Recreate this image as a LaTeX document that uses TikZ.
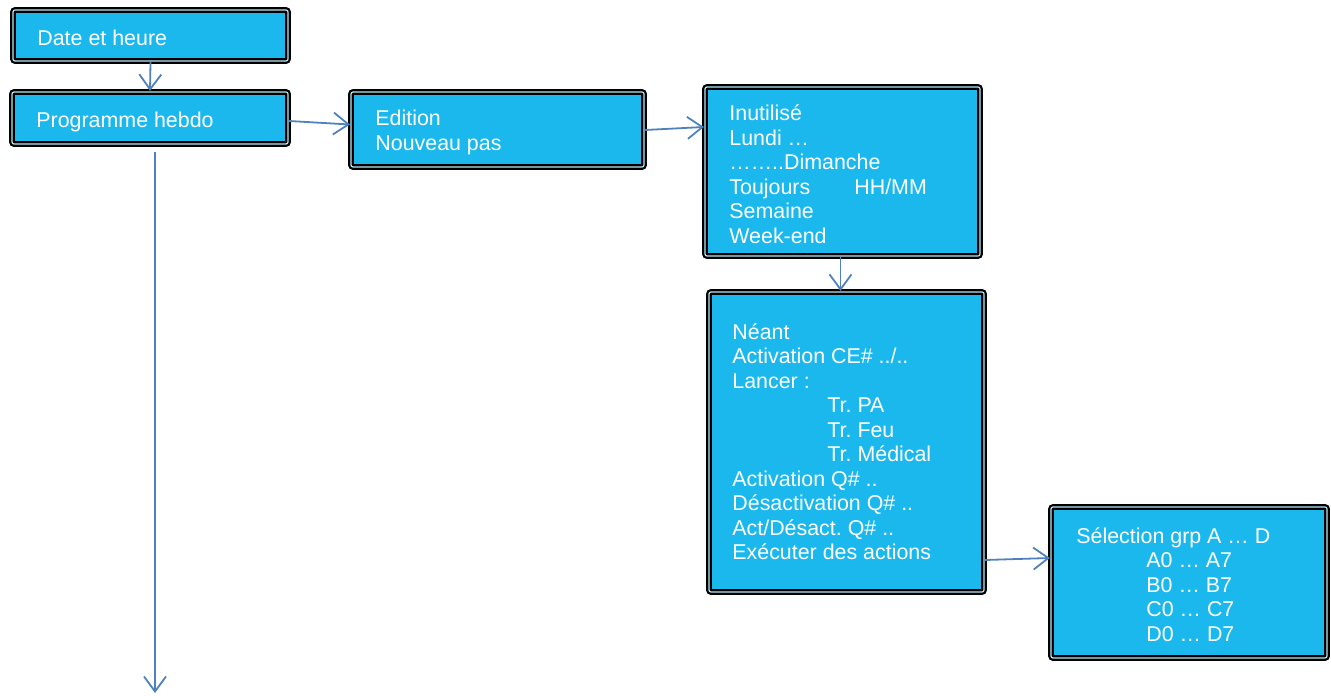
\documentclass[tikz,border=0pt]{standalone}
\usepackage{fontspec}
\setmainfont{Liberation Sans}
\usetikzlibrary{arrows.meta,fit,calc}
\definecolor{boxfill}{HTML}{1BB8EE}
\definecolor{gapcol}{HTML}{B5E8FA}
\definecolor{arrowcol}{HTML}{4F81BD}
\tikzset{
  box/.style={draw=black, line width=1.1pt, double=gapcol, double distance=0.6pt,
    fill=boxfill, inner sep=0pt, rounded corners=1pt},
  txt/.style={text=white, inner sep=0pt, anchor=base west,
    font=\frenchspacing\fontsize{10.7}{12.25}\selectfont},
  conn/.style={draw=arrowcol, line width=0.9pt, -{Straight Barb[length=7.5pt,width=11pt,line width=0.9pt]}}
}
\newcommand{\lines}[1]{\begin{tabular}[t]{@{}l@{}}#1\end{tabular}}
\begin{document}
\frenchspacing
\begin{tikzpicture}[x=0.5pt,y=-0.5pt]
\useasboundingbox (0,0) rectangle (1331,695);
% boxes
\node[box, fit={(13,10) (288,61)}] (b1) {};
\node[box, fit={(12,92) (288,144)}] (b2) {};
\node[box, fit={(351,92) (644,167)}] (b3) {};
\node[box, fit={(705,87) (980,256)}] (b4) {};
\node[box, fit={(709,292) (984,592)}] (b5) {};
\node[box, fit={(1051,507) (1327,658)}] (b6) {};
% texts
\node[txt] (t1) at (37,46) {Date et heure};
\node[txt] (t2) at (36,128) {Programme hebdo};
\node[txt] (t3) at (375,126) {\lines{Edition\\Nouveau pas}};
\node[txt] (t4) at (729,121) {\lines{Inutilisé\\Lundi …\\……..Dimanche\\\makebox[62.5pt][l]{Toujours}HH/MM\\Semaine\\Week-end}};
\node[txt] (t5) at (732,339) {\lines{Néant\\Activation CE\# ../..\\Lancer :\\\hspace*{47.5pt}Tr. PA\\\hspace*{47.5pt}Tr. Feu\\\hspace*{47.5pt}Tr. Médical\\Activation Q\# ..\\Désactivation Q\# ..\\Act/Désact. Q\# ..\\Exécuter des actions}};
\node[txt] (t6) at (1076,543) {\lines{Sélection grp A … D\\\hspace*{35pt}A0 … A7\\\hspace*{35pt}B0 … B7\\\hspace*{35pt}C0 … C7\\\hspace*{35pt}D0 … D7}};
% connectors
\coordinate (p1) at (155,152);
\coordinate (p2) at (155,693);
\draw[conn] (b1.south) -- (b2.north);
\draw[conn] ($(b2.east)+(0,3)$) -- ($(b3.west)+(0,-5)$);
\draw[conn] ($(b3.east)+(0,0.5)$) -- ($(b4.west)+(0,-44.5)$);
\draw[conn] ($(b4.south)+(-2,0)$) -- ($(b4.south |- b5.north)+(-2,0)$);
\draw[conn] ($(b5.east)+(0,118)$) -- ($(b6.west)+(0,-24.5)$);
\draw[conn] (p1) -- (p2);
\end{tikzpicture}
\end{document}
